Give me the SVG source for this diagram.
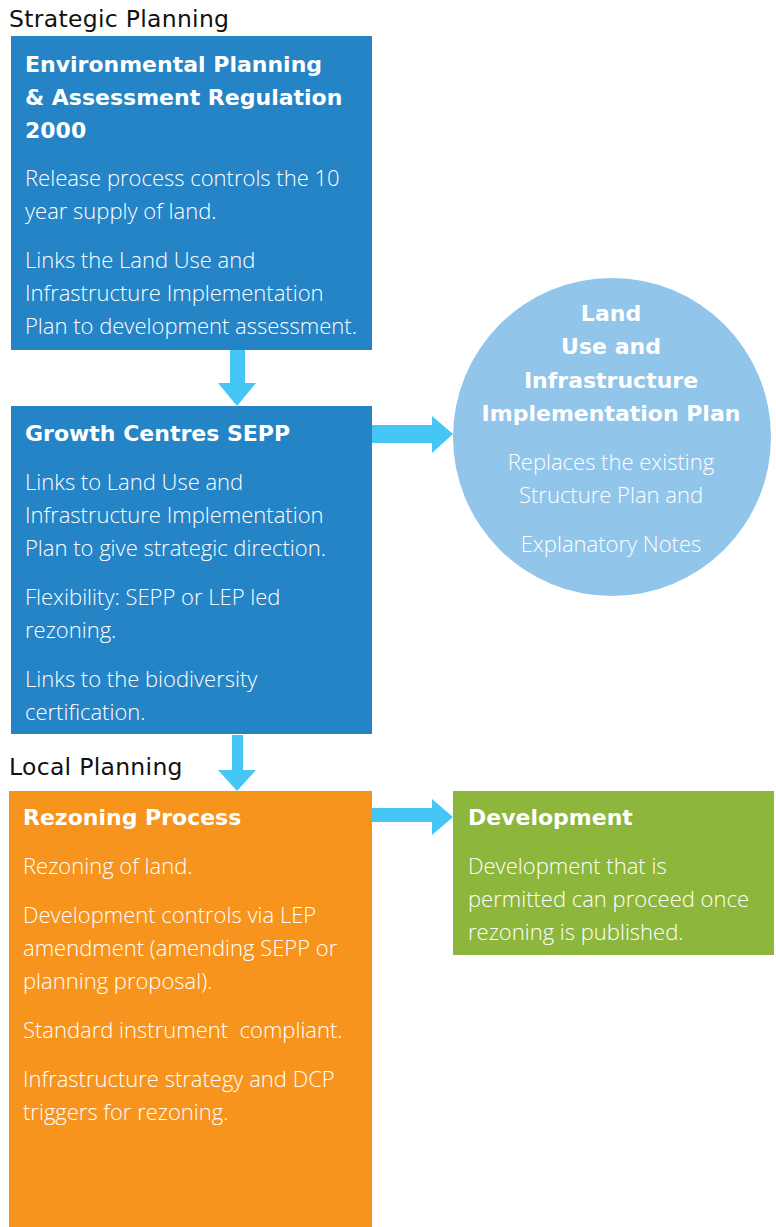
<svg xmlns="http://www.w3.org/2000/svg" width="776" height="1227" viewBox="0 0 776 1227">
<style>
.sec{font-family:"DejaVu Sans","Liberation Sans",sans-serif;font-size:23.5px;letter-spacing:0.3px;fill:#111}
.h{font-family:"DejaVu Sans","Liberation Sans",sans-serif;font-size:22px;font-weight:bold;fill:#fff}
.b{font-family:"Open Sans","Liberation Sans",sans-serif;font-size:22px;font-weight:300;fill:#fff;white-space:pre}
.bc{font-family:"Open Sans","Liberation Sans",sans-serif;font-size:22px;font-weight:300;fill:#fff;text-anchor:middle}
.hc{font-family:"DejaVu Sans","Liberation Sans",sans-serif;font-size:22px;font-weight:bold;fill:#fff;text-anchor:middle}
.arr{fill:#45C6F5}
</style>
<rect width="776" height="1227" fill="#fff"/>
<text class="sec" x="9" y="27">Strategic Planning</text>
<text class="sec" x="9" y="775">Local Planning</text>
<g id="connectors">
<polygon class="arr" points="230,350 245,350 245,383 256,383 237,406 218,383 230,383"/>
<polygon class="arr" points="232,735 243,735 243,770 256,770 237,791 218,770 232,770"/>
<polygon class="arr" points="372,425 432,425 432,416 453,434 432,453 432,443 372,443"/>
<polygon class="arr" points="372,808 432,808 432,799 453,817 432,835 432,822 372,822"/>
</g>
<g id="epar">
<rect x="11" y="36" width="361" height="314" fill="#2584C6"/>
<text class="h" x="25" y="72">Environmental Planning</text>
<text class="h" x="25" y="105">&amp; Assessment Regulation</text>
<text class="h" x="25" y="138">2000</text>
<text class="b" x="25" y="186">Release process controls the 10</text>
<text class="b" x="25" y="219">year supply of land.</text>
<text class="b" x="25" y="268">Links the Land Use and</text>
<text class="b" x="25" y="301">Infrastructure Implementation</text>
<text class="b" x="25" y="334">Plan to development assessment.</text>
</g>
<g id="sepp">
<rect x="11" y="406" width="361" height="328" fill="#2584C6"/>
<text class="h" x="25" y="441">Growth Centres SEPP</text>
<text class="b" x="25" y="490">Links to Land Use and</text>
<text class="b" x="25" y="523">Infrastructure Implementation</text>
<text class="b" x="25" y="556">Plan to give strategic direction.</text>
<text class="b" x="25" y="605">Flexibility: SEPP or LEP led</text>
<text class="b" x="25" y="638">rezoning.</text>
<text class="b" x="25" y="687">Links to the biodiversity</text>
<text class="b" x="25" y="720">certification.</text>
</g>
<g id="luiip">
<circle cx="612" cy="437" r="159" fill="#92C5EA"/>
<text class="hc" x="611" y="321">Land</text>
<text class="hc" x="611" y="354">Use and</text>
<text class="hc" x="611" y="388">Infrastructure</text>
<text class="hc" x="611" y="421">Implementation Plan</text>
<text class="bc" x="611" y="470">Replaces the existing</text>
<text class="bc" x="611" y="503">Structure Plan and</text>
<text class="bc" x="611" y="552">Explanatory Notes</text>
</g>
<g id="rezoning">
<rect x="9" y="791" width="363" height="436" fill="#F7941D"/>
<text class="h" x="23" y="825">Rezoning Process</text>
<text class="b" x="23" y="874">Rezoning of land.</text>
<text class="b" x="23" y="923">Development controls via LEP</text>
<text class="b" x="23" y="956">amendment (amending SEPP or</text>
<text class="b" x="23" y="989">planning proposal).</text>
<text class="b" x="23" y="1038">Standard instrument  compliant.</text>
<text class="b" x="23" y="1087">Infrastructure strategy and DCP</text>
<text class="b" x="23" y="1120">triggers for rezoning.</text>
</g>
<g id="development">
<rect x="453" y="791" width="321" height="164" fill="#8DB63C"/>
<text class="h" x="468" y="825">Development</text>
<text class="b" x="468" y="874">Development that is</text>
<text class="b" x="468" y="907">permitted can proceed once</text>
<text class="b" x="468" y="940">rezoning is published.</text>
</g>
</svg>
